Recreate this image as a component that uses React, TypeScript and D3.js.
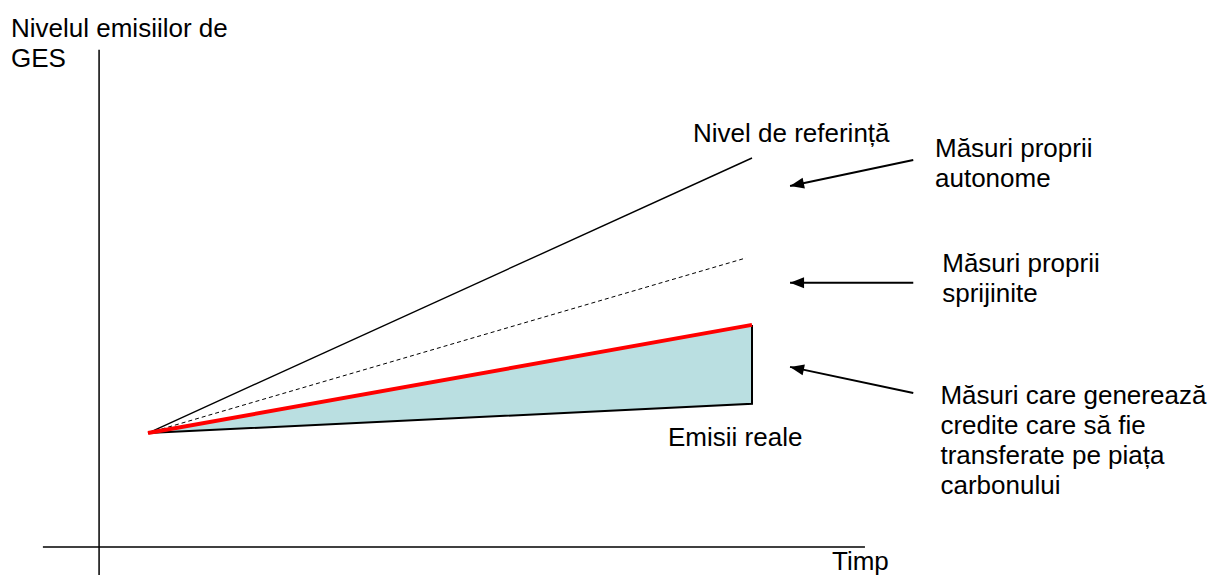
import React from "react"
import * as d3 from "d3"

// time runs 0 (start) .. 100 (end of period); emissions level is an index
const timeStart = 0
const timeEnd = 100
const dashedEnd = 99
const baseLevel = 29.3
const referenceEnd = 100
const supportedEnd = 74.3
const autonomousEnd = 57.1
const realEnd = 36.8

const axisX = [-17.4, 118.7]
const axisY = [-7.2, 127.8]
const axisOriginX = -8.1

const yTitle = ["Nivelul emisiilor de", "GES"]
const xTitle = "Timp"
const referenceLabel = "Nivel de referință"
const realLabel = "Emisii reale"

interface Note {
  lines: string[]
  tip: [number, number]
  tail: [number, number]
  textX: number
  textY: number
}

const notes: Note[] = [
  { lines: ["Măsuri proprii", "autonome"], tip: [106.3, 92.8], tail: [126.7, 99.5], textX: 130.3, textY: 100.3 },
  { lines: ["Măsuri proprii", "sprijinite"], tip: [106.3, 67.9], tail: [126.7, 67.9], textX: 131.5, textY: 70.7 },
  {
    lines: ["Măsuri care generează", "credite care să fie", "transferate pe piața", "carbonului"],
    tip: [106.3, 46.3],
    tail: [126.7, 39.6],
    textX: 131.2,
    textY: 36.7,
  },
]

const W = 1217
const H = 576
const FONT = "'Liberation Sans', Arial, sans-serif"

export default function App() {
  const x = d3.scaleLinear().domain([timeStart, timeEnd]).range([148, 752])
  const y = d3.scaleLinear().domain([0, 100]).range([547, 158])

  const line = d3
    .line<[number, number]>()
    .x((d) => x(d[0]))
    .y((d) => y(d[1]))

  const area = [
    [timeStart, baseLevel],
    [timeEnd, autonomousEnd],
    [timeEnd, realEnd],
  ] as [number, number][]

  const arrowHead = (n: Note) => {
    const tx = x(n.tip[0])
    const ty = y(n.tip[1])
    const ang = Math.atan2(y(n.tail[1]) - ty, x(n.tail[0]) - tx)
    const len = 14
    const half = 5.5
    const bx = tx + Math.cos(ang) * len
    const by = ty + Math.sin(ang) * len
    const px = -Math.sin(ang) * half
    const py = Math.cos(ang) * half
    return `${tx},${ty} ${bx + px},${by + py} ${bx - px},${by - py}`
  }

  return (
    <svg width={W} height={H} style={{ position: "absolute", left: 0, top: 0, background: "#fff" }} fontFamily={FONT}>
      {/* axes */}
      <line x1={x(axisX[0])} x2={x(axisX[1])} y1={y(0)} y2={y(0)} stroke="#000" strokeWidth={1.5} />
      <line x1={x(axisOriginX)} x2={x(axisOriginX)} y1={y(axisY[1])} y2={y(axisY[0])} stroke="#000" strokeWidth={1.5} />

      {/* gap between autonomous measures and real emissions */}
      <path d={line(area) + "Z"} fill="#badfe1" stroke="none" />

      {/* reference level */}
      <path d={line([[timeStart, baseLevel], [timeEnd, referenceEnd]]) ?? ""} stroke="#000" strokeWidth={1.4} fill="none" />
      {/* supported measures */}
      <path
        d={line([[timeStart, baseLevel], [dashedEnd, supportedEnd]]) ?? ""}
        stroke="#000"
        strokeWidth={1}
        strokeDasharray="4 3"
        fill="none"
      />
      {/* real emissions */}
      <path
        d={line([[timeStart, baseLevel], [timeEnd, realEnd], [timeEnd, autonomousEnd]]) ?? ""}
        stroke="#000"
        strokeWidth={2}
        fill="none"
      />
      {/* autonomous measures */}
      <path
        d={line([[timeStart, baseLevel], [timeEnd, autonomousEnd]]) ?? ""}
        stroke="#ff0000"
        strokeWidth={4}
        fill="none"
      />

      {/* arrows */}
      {notes.map((n, i) => (
        <g key={i}>
          <line x1={x(n.tail[0])} y1={y(n.tail[1])} x2={x(n.tip[0])} y2={y(n.tip[1])} stroke="#000" strokeWidth={2} />
          <polygon points={arrowHead(n)} fill="#000" />
          <text x={x(n.textX)} y={y(n.textY)} fontSize={26} fill="#000">
            {n.lines.map((l, j) => (
              <tspan key={j} x={x(n.textX)} dy={j === 0 ? 0 : 30}>
                {l}
              </tspan>
            ))}
          </text>
        </g>
      ))}

      {/* labels */}
      <text x={x(timeEnd) - 59} y={y(referenceEnd) - 16} fontSize={26} fill="#000">
        {referenceLabel}
      </text>
      <text x={x(timeEnd) - 84} y={y(realEnd) + 42} fontSize={26} fill="#000">
        {realLabel}
      </text>
      <text x={832} y={570} fontSize={26} fill="#000">
        {xTitle}
      </text>
      <text x={11} y={37} fontSize={26} fill="#000">
        {yTitle.map((l, j) => (
          <tspan key={j} x={11} dy={j === 0 ? 0 : 30}>
            {l}
          </tspan>
        ))}
      </text>
    </svg>
  )
}
